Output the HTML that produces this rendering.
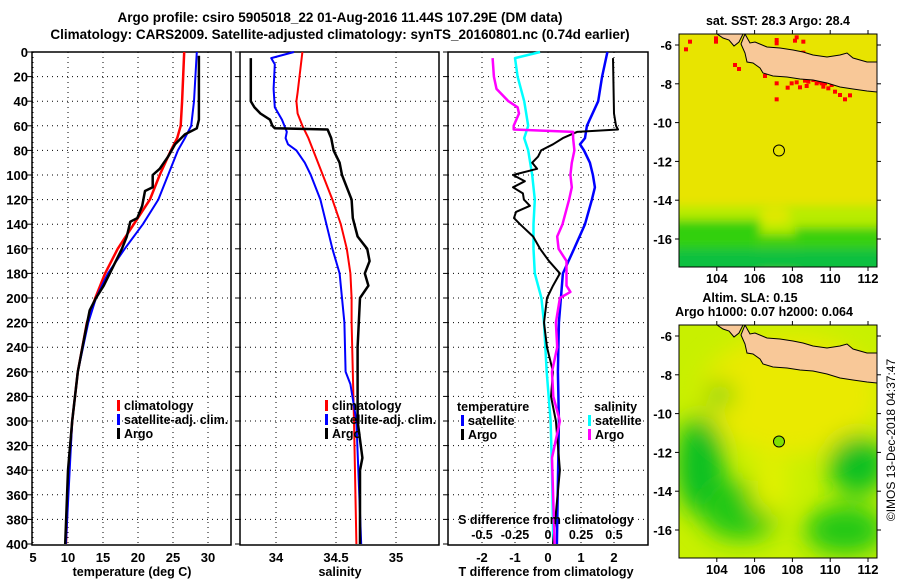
<!DOCTYPE html>
<html><head><meta charset="utf-8"><style>
body{margin:0;background:#fff;}
svg{display:block;font-family:"Liberation Sans",sans-serif;font-weight:bold;}
</style></head><body>
<svg id="c" width="900" height="580" viewBox="0 0 900 580">
<text x="340" y="22" font-size="13.5" text-anchor="middle">Argo profile: csiro 5905018_22 01-Aug-2016 11.44S 107.29E (DM data)</text>
<text x="340" y="39" font-size="13.5" text-anchor="middle">Climatology: CARS2009. Satellite-adjusted climatology: synTS_20160801.nc (0.74d earlier)</text>
<g id="maps"></g>
<g id="plots"></g>
</svg>
<script>
// depth axis
const depthTicks=[0,20,40,60,80,100,120,140,160,180,200,220,240,260,280,300,320,340,360,380,400];
// temperature panel
const tTicks=[5,10,15,20,25,30];
const tClimD=[0,40,60,70,80,100,120,140,160,180,200,220,260,300,340,400];
const tClimV=[26.6,26.3,26.1,25.6,24.7,23.1,21.7,19.4,17.1,15.3,13.9,12.7,11.4,10.6,10.1,9.7];
const tSatD=[0,40,60,70,80,100,120,140,160,180,200,220,260,300,400];
const tSatV=[28.4,28.0,27.6,26.7,25.7,24.3,22.9,20.7,18.1,15.7,14.0,12.9,11.4,10.6,9.7];
const tArgoD=[3,55,62,67,75,85,95,100,110,113,125,135,138,150,160,175,190,200,210,230,260,300,340,400];
const tArgoV=[28.7,28.7,28.4,26.7,25.3,24.3,23.1,22.1,22.1,21.0,20.6,19.9,18.9,18.4,17.7,16.4,15.1,14.0,13.1,12.4,11.4,10.6,10.0,9.6];
// salinity panel
const sTicks=[34,34.5,35];
const sClimD=[0,33,40,50,60,70,80,100,120,140,160,180,200,220,300,400];
const sClimV=[34.22,34.18,34.17,34.18,34.22,34.27,34.31,34.39,34.47,34.54,34.59,34.62,34.63,34.63,34.65,34.67];
const sSatD=[0,5,10,30,45,55,60,65,70,75,80,90,100,120,140,160,180,200,220,260,270,300,400];
const sSatV=[34.15,33.96,33.99,33.98,33.99,34.05,34.07,34.09,34.08,34.10,34.17,34.24,34.29,34.37,34.42,34.47,34.53,34.55,34.57,34.58,34.62,34.67,34.71];
const sArgoD=[5,40,45,50,55,60,62,63,70,80,90,100,110,120,135,150,160,170,180,190,200,240,260,300,330,340,400];
const sArgoV=[33.79,33.79,33.82,33.87,33.95,33.97,33.99,34.43,34.46,34.48,34.53,34.55,34.59,34.63,34.64,34.68,34.76,34.78,34.74,34.77,34.70,34.68,34.68,34.68,34.72,34.70,34.70];
// difference panel
const dTTicks=[-2,-1,0,1,2];
const dSTicks=[-0.5,-0.25,0,0.25,0.5];
const dSTickLbl=["-0.5","-0.25","0","0.25","0.5"];
const dTSatD=[0,20,40,60,70,75,80,90,100,110,120,140,160,180,200,220,260,300,400];
const dTSatV=[1.8,1.64,1.52,1.18,1.12,0.97,1.09,1.27,1.36,1.42,1.33,1.12,0.79,0.45,0.39,0.33,0.30,0.33,0.27];
const dTArgoD=[5,50,60,63,65,70,75,80,85,90,95,100,105,110,115,120,125,130,135,140,150,160,170,180,190,200,220,240,260,280,300,340,400];
const dTArgoV=[1.97,2.0,2.06,2.12,0.88,0.45,0.15,-0.21,-0.30,-0.48,-0.33,-1.06,-0.70,-1.06,-0.76,-0.73,-0.55,-0.97,-1.03,-0.85,-0.45,-0.24,0.03,0.36,0.15,-0.03,-0.12,-0.03,0.15,0.09,0.24,0.36,0.15];
const dSArgoD=[5,20,30,40,45,50,60,63,65,70,80,90,100,110,120,140,150,160,170,180,190,195,200,220,240,260,280,300,330,400];
const dSArgoV=[-0.42,-0.41,-0.39,-0.30,-0.23,-0.22,-0.26,-0.26,0.19,0.19,0.20,0.18,0.17,0.18,0.16,0.11,0.07,0.08,0.14,0.14,0.14,0.17,0.09,0.06,0.07,0.03,0.04,0.09,0.03,0.05];
const dSSatD=[0,5,20,40,60,70,80,100,120,140,160,180,200,220,260,300,340,400];
const dSSatV=[-0.06,-0.25,-0.23,-0.18,-0.15,-0.18,-0.15,-0.12,-0.10,-0.11,-0.11,-0.10,-0.05,-0.03,-0.01,0.02,0.03,0.04];

const NS="http://www.w3.org/2000/svg";
const plots=document.getElementById('plots');
function mk(tag,attrs,parent,text){const e=document.createElementNS(NS,tag);for(const k in attrs)e.setAttribute(k,attrs[k]);if(text!==undefined)e.textContent=text;(parent||plots).appendChild(e);return e;}
const Y0=52,Y1=545;
function yD(d){return Y0+1.23*d;}
const panels=[
 {x0:32,x1:231,f:v=>33+(v-5)*7,name:'temperature-panel'},
 {x0:240,x1:439,f:v=>276+(v-34)*120,name:'salinity-panel'},
 {x0:448,x1:648,f:v=>548+v*33,name:'difference-panel'}];
const fS=v=>548+v*132;

panels.forEach((p,i)=>{
 const g=mk('g',{});
 
 
 mk('rect',{x:p.x0,y:Y0,width:p.x1-p.x0,height:Y1-Y0,fill:'#fff',stroke:'#000','stroke-width':1.5},g);
 depthTicks.forEach(d=>{
  const y=yD(d);
  if(d>0&&d<400){const gl=mk('line',{x1:p.x0,x2:p.x1,y1:y,y2:y,stroke:'#000','stroke-dasharray':'1,4','stroke-width':1},g);
   }
  mk('line',{x1:p.x0-5,x2:p.x0,y1:y,y2:y,stroke:'#000'},g);
  if(i==0){const t=mk('text',{x:28,y:y+5,'font-size':13,'text-anchor':'end'},g,String(d));
   }
 });
 const ticks=i==0?tTicks:i==1?sTicks:dTTicks;
 ticks.forEach(v=>{
  const x=p.f(v);
  const gl=mk('line',{x1:x,x2:x,y1:Y0,y2:Y1,stroke:'#000','stroke-dasharray':'1,4'},g);
  
  const t=mk('text',{x:x,y:562,'font-size':13,'text-anchor':'middle'},g,String(v));
  
 });
});
function series(D,V,f,color,w,name){
 const pts=D.map((d,k)=>f(V[k]).toFixed(1)+','+yD(d).toFixed(1)).join(' ');
 const e=mk('polyline',{points:pts,fill:'none',stroke:color,'stroke-width':w,'stroke-linejoin':'round'});
 
 
}
const pT=panels[0].f,pS=panels[1].f,pD=panels[2].f;
series(tClimD,tClimV,pT,'#f00',2.5,'temp-climatology-line');
series(tSatD,tSatV,pT,'#00f',2,'temp-satellite-line');
series(tArgoD,tArgoV,pT,'#000',2.5,'temp-argo-line');
series(sClimD,sClimV,pS,'#f00',2,'sal-climatology-line');
series(sSatD,sSatV,pS,'#00f',2,'sal-satellite-line');
series(sArgoD,sArgoV,pS,'#000',2.5,'sal-argo-line');
series(dSSatD,dSSatV,fS,'#0ff',2.5,'sdiff-satellite-line');
series(dTSatD,dTSatV,pD,'#00f',2.5,'tdiff-satellite-line');
series(dTArgoD,dTArgoV,pD,'#000',2,'tdiff-argo-line');
series(dSArgoD,dSArgoV,fS,'#f0f',2.5,'sdiff-argo-line');

function txt(x,y,s,size,name,anchor){const t=mk('text',{x:x,y:y,'font-size':size||13,'text-anchor':anchor||'start'},plots,s);return t;}
function legMark(x,y,color,name){const r=mk('rect',{x:x,y:y-10,width:3,height:11,fill:color});}
[[117,'temp'],[325,'sal']].forEach(([lx,n])=>{
 legMark(lx,410,'#f00',n+'-legend-climatology-marker');txt(lx+7,410,'climatology',12.5,n+'-legend-climatology');
 legMark(lx,424,'#00f',n+'-legend-satellite-marker');txt(lx+7,424,'satellite-adj. clim.',12.5,n+'-legend-satellite');
 legMark(lx,438,'#000',n+'-legend-argo-marker');txt(lx+7,438,'Argo',12.5,n+'-legend-argo');
});
txt(457,411,'temperature',12.5,'legend-temperature-heading');
legMark(461,425,'#00f','legend-t-satellite-marker');txt(468,425,'satellite',12.5,'legend-t-satellite');
legMark(461,439,'#000','legend-t-argo-marker');txt(468,439,'Argo',12.5,'legend-t-argo');
txt(594,411,'salinity',12.5,'legend-salinity-heading');
legMark(588,425,'#0ff','legend-s-satellite-marker');txt(595,425,'satellite',12.5,'legend-s-satellite');
legMark(588,439,'#f0f','legend-s-argo-marker');txt(595,439,'Argo',12.5,'legend-s-argo');
txt(546,524,'S difference from climatology',12.5,'s-diff-axis-title','middle');
dSTicks.forEach((v,k)=>{txt(fS(v),539,dSTickLbl[k],12.5,'s-diff-tick-label','middle');});
txt(132,576,'temperature (deg C)',12.5,'x-axis-title-temperature','middle');
txt(340,576,'salinity',12.5,'x-axis-title-salinity','middle');
txt(546,576,'T difference from climatology',12.5,'x-axis-title-tdiff','middle');

// ---------- maps ----------
const maps=document.getElementById('maps');
const mLon=[104,106,108,110,112], mLat=[-6,-8,-10,-12,-14,-16];
const argoLon=107.29, argoLat=-11.44;
function mx(lon){return 679+(lon-102)*18.9;}
function my(lat,top){return top+11+(-6-lat)*19.4;}
const land="66,0 71,9 76,8 88,13 101,14 114,16 124,18 134,21 148,23 161,21 168,19 174,24 188,28 198,28 198,58 188,57 174,55 161,53 148,49 134,46 121,45 108,43 94,42 84,39 81,34 74,29 68,28 66,19 62,10";
const land2="38,0 64,0 60,8 55,12 50,6 44,4";
const redPx=[[228,115],[228,125],[138,148],[150,125],[285,195],[297,207],[375,228],[410,120],[410,130],[465,122],[490,125],[470,112],[490,158],[500,170],[510,170],[520,182],[568,183],[410,250],[443,263],[455,250],[470,247],[480,262],[495,242],[500,258],[505,245],[520,240],[530,250],[540,245],[550,260],[555,250],[565,265],[575,255],[585,275],[600,285],[615,298],[630,286],[410,298],[515,178],[545,250]];
function buildMap(top,kind){
 const g=mk('g',{},maps);
 
 
 const id='clip'+top;
 const cp=mk('clipPath',{id:id},g);mk('rect',{x:679,y:top,width:198,height:233},cp);
 const inner=mk('g',{'clip-path':'url(#'+id+')'},g);
 const fid='blur'+top;
 const f=mk('filter',{id:fid,x:'-50%',y:'-50%',width:'200%',height:'200%'},g);mk('feGaussianBlur',{stdDeviation:kind==='sst'?5:12},f);
 if(kind==='sst'){
  mk('rect',{x:679,y:top,width:198,height:233,fill:'#e8e400'},inner);
  const b=mk('g',{filter:'url(#'+fid+')'},inner);
  mk('rect',{x:670,y:top+172,width:220,height:70,fill:'#b8ec00'},b);
  mk('rect',{x:670,y:top+186,width:90,height:60,fill:'#30d010'},b);
  mk('rect',{x:795,y:top+193,width:90,height:50,fill:'#38d010'},b);
  mk('rect',{x:755,y:top+200,width:45,height:40,fill:'#40d010'},b);
  mk('rect',{x:670,y:top+215,width:220,height:25,fill:'#10c040'},b);
  mk('ellipse',{cx:775,cy:top+182,rx:16,ry:8,fill:'#e0e800'},b);
  redPx.forEach(r=>mk('rect',{x:640+r[0]/3-2,y:r[1]/3-34+top-2,width:4,height:4,fill:'#f00'},inner));
 } else {
  mk('rect',{x:679,y:top,width:198,height:233,fill:'#c8f000'},inner);
  const b=mk('g',{filter:'url(#'+fid+')'},inner);
  mk('ellipse',{cx:790,cy:top+70,rx:90,ry:60,fill:'#eaea00'},b);
  mk('ellipse',{cx:700,cy:top+140,rx:25,ry:50,fill:'#10c020'},b);
  mk('ellipse',{cx:740,cy:top+185,rx:40,ry:30,fill:'#20c818'},b);
  mk('ellipse',{cx:858,cy:top+140,rx:30,ry:30,fill:'#10c020'},b);
  mk('ellipse',{cx:845,cy:top+205,rx:40,ry:25,fill:'#20c818'},b);
  mk('ellipse',{cx:720,cy:top+70,rx:14,ry:12,fill:'#60d010'},b);
  mk('ellipse',{cx:770,cy:top+160,rx:20,ry:30,fill:'#e0f000'},b);
 }
 [land,land2].forEach(pp=>{
  const l=mk('polygon',{points:pp,fill:'#f8c898',stroke:'#000','stroke-width':1,transform:'translate(679,'+top+')'},inner);
  
 });
 mk('rect',{x:679,y:top,width:198,height:233,fill:'none',stroke:'#000','stroke-width':1},g);
 mLon.forEach(v=>{const x=mx(v);mk('line',{x1:x,x2:x,y1:top,y2:top-4,stroke:'#000'},g);mk('line',{x1:x,x2:x,y1:top+233,y2:top+237,stroke:'#000'},g);
  const t=mk('text',{x:x,y:top+249,'font-size':13,'text-anchor':'middle'},g,String(v));});
 mLat.forEach(v=>{const y=my(v,top);mk('line',{x1:679,x2:675,y1:y,y2:y,stroke:'#000'},g);mk('line',{x1:877,x2:881,y1:y,y2:y,stroke:'#000'},g);
  const t=mk('text',{x:672,y:y+5,'font-size':13,'text-anchor':'end'},g,String(v));});
 const c=mk('circle',{cx:mx(argoLon),cy:my(argoLat,top),r:5.5,fill:kind==='sst'?'none':'#80e000',stroke:'#000','stroke-width':1},g);
 
}
buildMap(34,'sst');
buildMap(325,'sla');
function mt(x,y,s,name,extra){const t=mk('text',Object.assign({x:x,y:y,'font-size':12.5,'text-anchor':'middle'},extra||{}),maps,s);}
mt(778,25,'sat. SST: 28.3 Argo: 28.4','sst-map-title');
mt(750,302,'Altim. SLA: 0.15','sla-map-title');
mt(764,316,'Argo h1000: 0.07 h2000: 0.064','sla-map-subtitle');
mt(895,440,'©IMOS 13-Dec-2018 04:37:47','imos-credit',{transform:'rotate(-90 895 440)','font-weight':'normal','font-size':12});
</script>
</body></html>
